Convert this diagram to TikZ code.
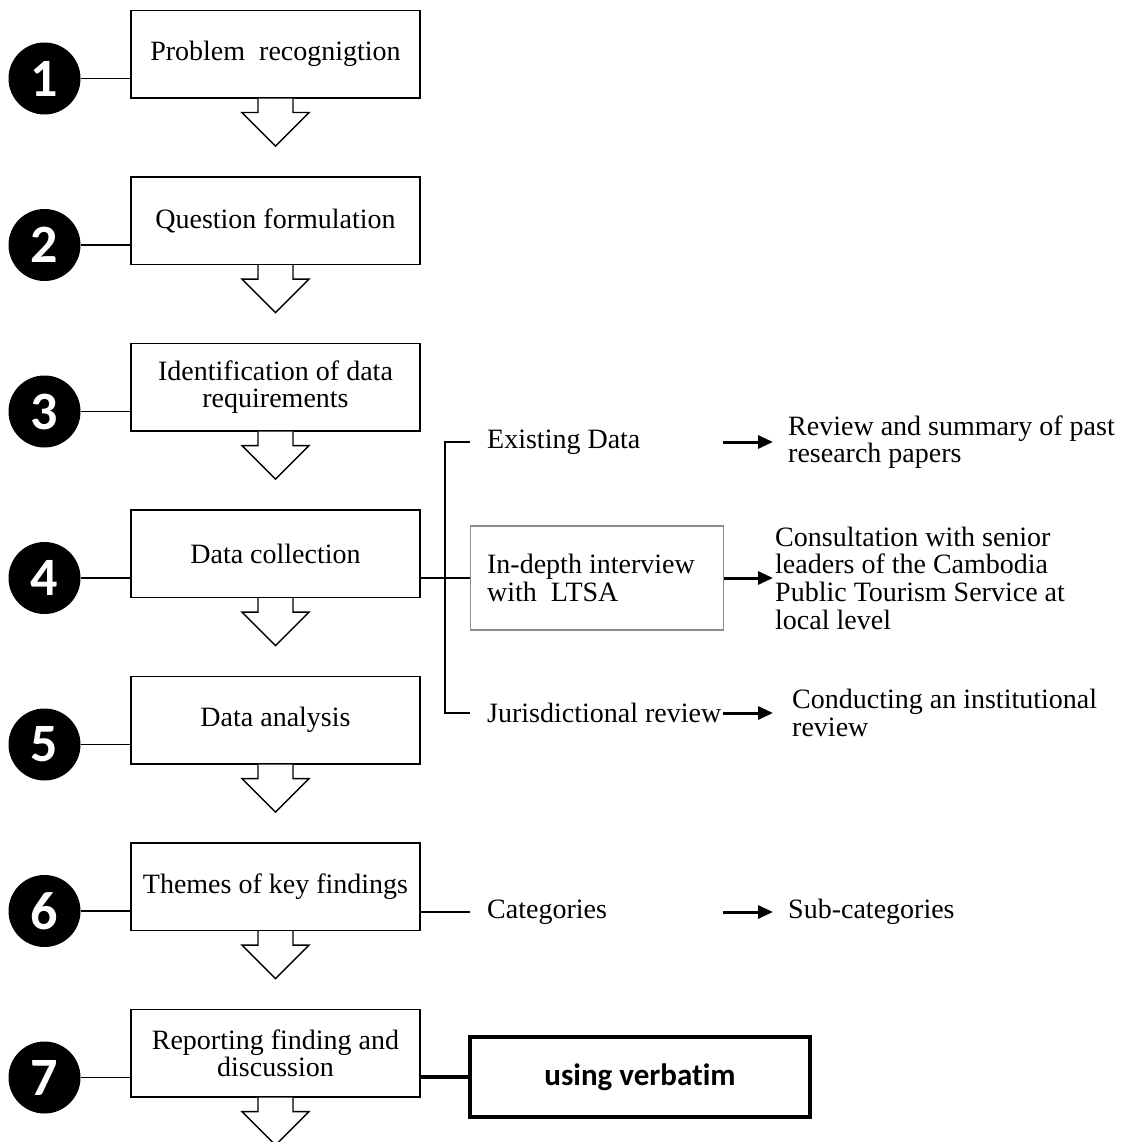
\documentclass[tikz,border=0pt]{standalone}
\usepackage{fontspec}
\setmainfont{Liberation Serif}
\newfontfamily\calfont[Ligatures=NoCommon]{Carlito}
\usetikzlibrary{arrows.meta}

\begin{document}
\begin{tikzpicture}[>={Triangle[length=15pt,width=13pt]},x=1pt,y=-1pt,
  font=\fontsize{28}{27.7}\selectfont,
  link/.style={line width=1.3pt},
  stepbox/.style={draw,link,fill=white,minimum width=289pt,minimum height=87.5pt,inner sep=0pt,align=center},
  numdot/.style={circle,fill=black,minimum size=72pt,inner sep=0pt,text=white,font=\calfont\bfseries\fontsize{54}{54}\selectfont},
  branch/.style={anchor=west,text width=236pt,inner xsep=0pt,align=flush left},
  result/.style={anchor=west,align=flush left,inner ysep=0pt}]
\useasboundingbox (0,0) rectangle (1121,1142);
% steps with their numbers and block arrows
\foreach \i/\lab in {1/Problem~ recognigtion,2/Question formulation,3/Identification of data\\requirements,4/Data collection,5/Data analysis,6/Themes of key findings,7/Reporting finding and\\discussion}{
  \node[stepbox] (s\i) at (275.5,{54.2+166.5*(\i-1)}) {\lab};
  \node[numdot] (n\i) at (44.5,{78.5+166.5*(\i-1)}) {\i};
  \draw[link] (n\i) -- (s\i.west |- n\i);
  \draw[link,fill=white] ([xshift=-17.5pt]s\i.south) -- ++(0,14) -- ++(-16,0) -- ++(33.5,33.5) -- ++(33.5,-33.5) -- ++(-16,0) -- ++(0,-14);
}
% data collection branches
\node[branch] (ex) at (487,442) {Existing Data};
\node[draw=black!45,link,anchor=west,minimum height=104pt,text width=220pt,inner xsep=16.5pt,align=flush left] (iv) at (470,578) {In-depth interview\\with~ LTSA};
\node[branch] (jr) at (487,713) {Jurisdictional review};
\coordinate (tk) at (445,578);
\draw[link] (s4.east |- iv.west) -- (iv.west);
\draw[link] ([xshift=-17pt]ex.west) -| (tk) |- ([xshift=-17pt]jr.west);
\node[result,inner xsep=15pt] (rv) at (773,442) {Review and summary of past\\research papers};
\node[result,inner xsep=2pt] (cs) at (773,578) {Consultation with senior\\leaders of the Cambodia\\Public Tourism Service at\\local level};
\node[result,inner xsep=19pt] (ci) at (773,713) {Conducting an institutional\\review};
\draw[->,line width=3pt] (ex.east) -- (rv.west);
\draw[->,line width=3pt] (iv.east) -- (cs.west);
\draw[->,line width=3pt] (jr.east) -- (ci.west);
% findings
\node[branch] (ct) at (487,912) {Categories};
\node[result,inner xsep=15pt] (sc) at (773,912) {Sub-categories};
\draw[link] (s6.east |- ct.west) -- ([xshift=-17pt]ct.west);
\draw[->,line width=3pt] (ct.east) -- (sc.west);
% reporting
\node[draw,line width=4pt,minimum width=340pt,minimum height=80pt,font=\calfont\bfseries\fontsize{31}{31}\selectfont] (vb) at (640,1077) {using verbatim};
\draw[line width=4pt] (s7.east |- vb.west) -- (vb.west);
\end{tikzpicture}
\end{document}
